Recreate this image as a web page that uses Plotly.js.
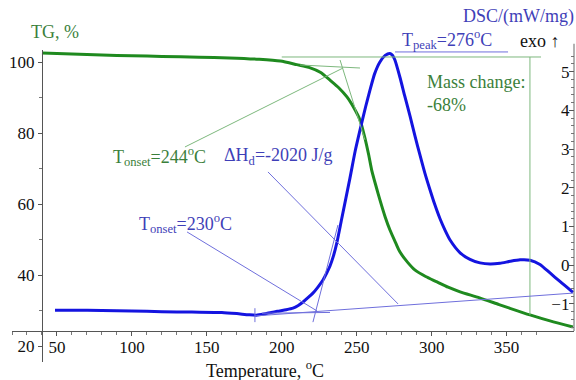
<!DOCTYPE html>
<html><head><meta charset="utf-8">
<script src="https://cdn.plot.ly/plotly-3.0.1.min.js"></script>
<style>html,body{margin:0;padding:0;background:#fff}#chart{width:576px;height:380px}</style>
</head><body><div id="chart"></div>
<script>
// TG curve (temperature in °C, mass in %)
const tgTemp = [40,60,80,100,120,145,165,185,199,210,219,226,232,238,243.5,248,252.2,255.5,258,260,263,265.5,269,272.2,276,278.9,284,289,296,303.6,311,319,332,345,352,365.6,379,394.3];
const tgValues = [102.7,102.4,102.1,101.9,101.7,101.5,101.3,100.9,100.4,99.4,98.5,97.2,95.1,92.9,90.3,87.3,83.8,78.7,74,69.7,65,61.3,56.5,52.8,49.2,46.6,43.7,41.5,39.7,38.2,36.7,35.4,33.7,31.8,30.8,28.9,27.2,25.5];
// DSC curve (temperature in °C, mW/mg)
const dscTemp = [48.7,60,80,100,120,140,160,170,178,183,188,193,197,203,207.5,211,214.2,217.5,220.8,224,227.5,230,232.2,234.5,236.7,240,245.5,249,252.2,256,258.9,262,265.5,269,272.2,274,275.5,278.9,282,285.6,289,292.2,295.5,298.9,302,305.6,309,312.3,319,325.6,332.3,339,345.6,352.3,359,365.6,372.3,379,385.6,394.3];
const dscValues = [-1.16,-1.16,-1.17,-1.18,-1.2,-1.21,-1.22,-1.25,-1.28,-1.29,-1.26,-1.22,-1.19,-1.15,-1.11,-1.04,-0.95,-0.84,-0.72,-0.57,-0.38,-0.2,-0.02,0.24,0.57,1.2,2.25,2.95,3.49,4.1,4.53,4.95,5.25,5.42,5.47,5.42,5.3,4.85,4.38,3.85,3.32,2.85,2.38,1.95,1.58,1.2,0.9,0.65,0.32,0.15,0.06,0.03,0.05,0.1,0.14,0.13,0.02,-0.2,-0.42,-0.7];

const xTickVals = [50,100,150,200,250,300,350];
const tgTickVals = [20,40,60,80,100];
const tgMinorVals = [30,50,70,90];
const dscTickVals = [-1,0,1,2,3,4,5];

// construction lines [T0, v0, T1, v1]
const greenGuides = [[200,101.55,373,101.55],[365.6,101.55,365.6,28.9],[212.2,99.3,252.2,98.45],[238.9,100.7,255.5,78.2],[135.4,76.2,240.9,98.45]];
const blueGuides = [[275.6,5.51,351,5.51],[190.8,2.41,277.6,-1.0],[136.8,0.86,223.5,-1.18],[182.1,-1.31,394.3,-0.72],[186.8,-1.24,232.2,-1.22],[220.8,-1.47,237.5,1.04],[182.1,-1.11,182.1,-1.47]];

const GREEN = '#1f8a1f', GREEN_T = '#3b7f3b', GREEN_L = '#7db87d';
const BLUE = '#1414e0', BLUE_T = '#3f3fb8', BLUE_L = '#6f6fdc';
const SERIF = '"Liberation Serif", "Times New Roman", serif';

const dscMinor = [];
for (let v = -1.6; v <= 5.5; v += 0.2) dscMinor.push(Math.round(v*10)/10);

const shapes = [];
greenGuides.forEach(g => shapes.push({type:'line', xref:'x', yref:'y', x0:g[0], y0:g[1], x1:g[2], y1:g[3], line:{color:GREEN_L, width:1}}));
blueGuides.forEach(g => shapes.push({type:'line', xref:'x', yref:'y2', x0:g[0], y0:g[1], x1:g[2], y1:g[3], line:{color:BLUE_L, width:1}}));
shapes.push({type:'line', xref:'paper', yref:'paper', x0:1, x1:1, y0:0.0994, y1:1.02, line:{color:'#666', width:1}});

const traces = [
  {x: tgTemp, y: tgValues, type:'scatter', mode:'lines', line:{color:GREEN, width:3, shape:'spline', smoothing:0.7}, yaxis:'y', hoverinfo:'skip'},
  {x: dscTemp, y: dscValues, type:'scatter', mode:'lines', line:{color:BLUE, width:3, shape:'spline', smoothing:0.6}, yaxis:'y2', hoverinfo:'skip'}
];

const annotations = [
  {text:'TG, %', xref:'paper', yref:'paper', x:0.0765, y:1.0577, xanchor:'center', yanchor:'middle', showarrow:false, font:{family:SERIF, size:18, color:GREEN_T}},
  {text:'DSC/(mW/mg)', xref:'paper', yref:'paper', x:0.9004, y:1.1058, xanchor:'center', yanchor:'middle', showarrow:false, font:{family:SERIF, size:18, color:BLUE_T}},
  {text:'T<sub>peak</sub>=276<sup>o</sup>C', xref:'paper', yref:'paper', x:0.6904, y:1.035, xanchor:'left', yanchor:'middle', showarrow:false, font:{family:SERIF, size:18, color:BLUE_T}},
  {text:'exo <b>\u2191</b>', xref:'paper', yref:'paper', x:0.9395, y:1.03, xanchor:'center', yanchor:'middle', showarrow:false, font:{family:SERIF, size:18, color:'#111'}},
  {text:'Mass change:<br>-68%', xref:'x', yref:'y', x:295.6, y:91.4, xanchor:'left', yanchor:'middle', align:'left', showarrow:false, font:{family:SERIF, size:18, color:GREEN_T}},
  {text:'T<sub>onset</sub>=244<sup>o</sup>C', xref:'x', yref:'y', x:86.1, y:73.5, xanchor:'left', yanchor:'middle', showarrow:false, font:{family:SERIF, size:18, color:GREEN_T}},
  {text:'\u0394H<sub>d</sub>=-2020 J/g', xref:'x', yref:'y', x:160.1, y:73.5, xanchor:'left', yanchor:'middle', showarrow:false, font:{family:SERIF, size:18, color:BLUE_T}},
  {text:'T<sub>onset</sub>=230<sup>o</sup>C', xref:'x', yref:'y', x:103.4, y:54.7, xanchor:'left', yanchor:'middle', showarrow:false, font:{family:SERIF, size:18, color:BLUE_T}},
  {text:'Temperature, <sup>o</sup>C', xref:'paper', yref:'paper', x:0.4502, y:-0.024, xanchor:'center', yanchor:'middle', showarrow:false, font:{family:SERIF, size:18, color:'#111'}}
];

const layout = {
  width:576, height:380,
  margin:{l:12, r:2, t:50, b:18},
  paper_bgcolor:'#fff', plot_bgcolor:'#fff',
  showlegend:false,
  font:{family:SERIF, size:18, color:'#111'},
  xaxis:{range:[20,395], anchor:'free', position:0.0994, showgrid:false, zeroline:false,
    showline:true, linecolor:'#555', linewidth:1, tickmode:'array', tickvals:xTickVals,
    ticks:'outside', ticklen:4, tickcolor:'#555', ticklabelstandoff:-3, tickfont:{family:SERIF, size:17, color:'#111'},
    minor:{dtick:10, tick0:0, ticks:'outside', ticklen:3, tickcolor:'#777', showgrid:false}},
  yaxis:{range:[15.63,103.52], anchor:'free', position:0.0533, showgrid:false, zeroline:false,
    showline:true, linecolor:'#555', linewidth:1, tickmode:'array', tickvals:tgTickVals,
    ticks:'outside', ticklen:4, tickcolor:'#555', tickfont:{family:SERIF, size:17, color:'#111'},
    minor:{tickmode:'array', tickvals:tgMinorVals, ticks:'outside', ticklen:3, tickcolor:'#777', showgrid:false}},
  yaxis2:{range:[-2.5,5.56], overlaying:'y', side:'right', anchor:'x', showgrid:false, zeroline:false,
    showline:false, tickmode:'array', tickvals:dscTickVals, ticklabelposition:'inside',
    ticks:'inside', ticklen:5, tickcolor:'#555', tickfont:{family:SERIF, size:17, color:'#111'},
    minor:{tickmode:'array', tickvals:dscMinor, ticks:'inside', ticklen:3, tickcolor:'#777', showgrid:false}},
  shapes: shapes,
  annotations: annotations
};

Plotly.newPlot('chart', traces, layout, {staticPlot:true, displayModeBar:false});
</script>
</body></html>
